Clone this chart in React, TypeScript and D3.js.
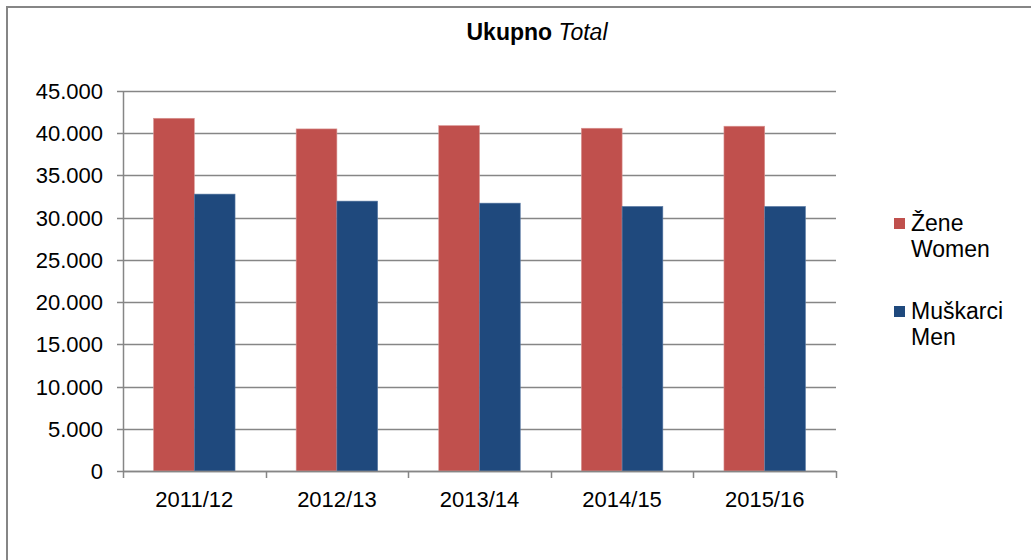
import React from 'react';
import * as d3 from 'd3';

const years = ['2011/12', '2012/13', '2013/14', '2014/15', '2015/16'];
const women = [41770, 40510, 40900, 40590, 40830];
const men = [32790, 31960, 31720, 31330, 31330];
const seriesNames = ['women', 'men'];
const legendLines = [
  ['Žene', 'Women'],
  ['Muškarci', 'Men'],
];
const yTicks = [0, 5000, 10000, 15000, 20000, 25000, 30000, 35000, 40000, 45000];

const W = 1031;
const H = 560;
const colors = { women: '#C0504D', men: '#1F497D' };
const edges = { women: '#D99593', men: '#5B7BA5' };
const grid = '#868686';
const font = '"Liberation Sans", Arial, sans-serif';

const fmt = d3.formatLocale({ decimal: ',', thousands: '.', grouping: [3], currency: ['', ''] }).format(',d');

const App = () => {
  const plot = { left: 123, right: 836, top: 91, bottom: 471 };

  const x = d3
    .scaleBand()
    .domain(years)
    .range([plot.left, plot.right])
    .paddingInner(1.5 / 3.5)
    .paddingOuter(0.75 / 3.5);

  const xSub = d3.scaleBand().domain(seriesNames).range([0, x.bandwidth()]);

  const y = d3.scaleLinear().domain([0, 45000]).range([plot.bottom, plot.top]);

  const step = x.step();
  const data = years.map((yr, i) => ({ yr, women: women[i], men: men[i] }));

  return (
    <svg width={W} height={H} style={{ position: 'absolute', left: 0, top: 0, fontFamily: font }}>
      <rect x={0} y={0} width={W} height={H} fill="#fff" />
      <rect x={7} y={7} width={W + 20} height={H + 20} fill="none" stroke={grid} strokeWidth={2} />

      <text x={537} y={40} textAnchor="middle" fontSize={23} fill="#000">
        <tspan fontWeight="bold">Ukupno</tspan>
        <tspan fontStyle="italic"> Total</tspan>
      </text>

      {/* gridlines and y labels */}
      {yTicks.map(t => (
        <g key={t}>
          <line x1={plot.left - 6} x2={plot.right} y1={Math.round(y(t)) + 0.5} y2={Math.round(y(t)) + 0.5} stroke={grid} strokeWidth={1.5} />
          <text x={103} y={y(t) + 8} textAnchor="end" fontSize={22} fill="#000">
            {fmt(t)}
          </text>
        </g>
      ))}

      {/* bars */}
      {data.map(d => (
        <g key={d.yr} transform={`translate(${x(d.yr)},0)`}>
          {seriesNames.map(s => (
            <rect
              key={s}
              x={xSub(s)}
              y={y(d[s])}
              width={xSub.bandwidth()}
              height={y(0) - y(d[s])}
              fill={colors[s]}
              stroke={edges[s]}
              strokeWidth={0.6}
            />
          ))}
        </g>
      ))}

      {/* axes */}
      <line x1={plot.left + 0.5} x2={plot.left + 0.5} y1={plot.top} y2={plot.bottom} stroke={grid} strokeWidth={1.5} />
      <line x1={plot.left} x2={plot.right} y1={plot.bottom + 0.5} y2={plot.bottom + 0.5} stroke={grid} strokeWidth={1.5} />
      {d3.range(years.length + 1).map(i => (
        <line
          key={i}
          x1={Math.round(plot.left + i * step) + 0.5}
          x2={Math.round(plot.left + i * step) + 0.5}
          y1={plot.bottom}
          y2={plot.bottom + 7}
          stroke={grid}
          strokeWidth={1.5}
        />
      ))}
      {years.map(yr => (
        <text key={yr} x={(x(yr) || 0) + x.bandwidth() / 2} y={507} textAnchor="middle" fontSize={22} fill="#000">
          {yr}
        </text>
      ))}

      {/* legend */}
      {seriesNames.map((s, i) => (
        <g key={s} transform={`translate(894,${218 + i * 88})`}>
          <rect x={0} y={0} width={11} height={11} fill={colors[s]} />
          <text x={17} y={13} fontSize={23} fill="#000">
            {legendLines[i][0]}
          </text>
          <text x={17} y={39} fontSize={23} fill="#000">
            {legendLines[i][1]}
          </text>
        </g>
      ))}
    </svg>
  );
};

export default App;
